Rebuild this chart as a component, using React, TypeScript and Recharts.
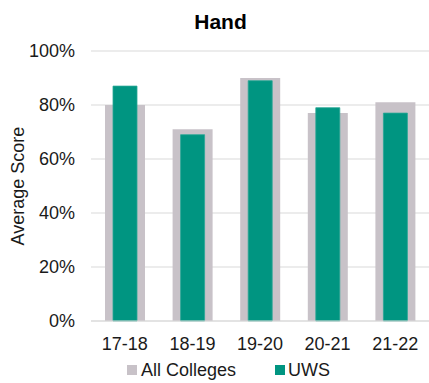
import React from "react";
import { BarChart, Bar, XAxis, YAxis, CartesianGrid } from "recharts";

const years = ["17-18", "18-19", "19-20", "20-21", "21-22"];
const allColleges = [80, 71, 90, 77, 81];
const uws = [87, 69, 89, 79, 77];
const yTicks = [0, 20, 40, 60, 80, 100];

const data = years.map((y, i) => ({ year: y, all: allColleges[i], uws: uws[i] }));

const FONT = "'Liberation Sans', Arial, sans-serif";
const GREY = "#c8c2c8";
const TEAL = "#009581";

const LegendBlock = () => (
  <div style={{ position: "absolute", left: 0, top: 358, width: 429, height: 24, fontFamily: FONT, fontSize: 18, color: "#1a1a1a" }}>
    <div style={{ position: "absolute", left: 127, top: 7, width: 10, height: 10, background: GREY }} />
    <div style={{ position: "absolute", left: 141, top: 0, lineHeight: "24px" }}>All Colleges</div>
    <div style={{ position: "absolute", left: 275, top: 7, width: 10, height: 10, background: TEAL }} />
    <div style={{ position: "absolute", left: 288, top: 0, lineHeight: "24px" }}>UWS</div>
  </div>
);

export default function App() {
  return (
    <div style={{ position: "absolute", left: 0, top: 0, width: 429, height: 383, background: "#fff" }}>
      <BarChart
        width={429}
        height={383}
        data={data}
        margin={{ top: 51, right: 0, bottom: 32, left: 0 }}
      >
        <text x={220.5} y={28.5} textAnchor="middle" fontFamily={FONT} fontWeight="bold" fontSize={21} fill="#000">
          Hand
        </text>
        <CartesianGrid vertical={false} stroke="#d9d9d9" strokeWidth={1.2} />
        <XAxis
          xAxisId="a"
          dataKey="year"
          height={30}
          axisLine={{ stroke: "#d9d9d9", strokeWidth: 1.2 }}
          tickLine={false}
          tickMargin={10}
          tick={{ fontFamily: FONT, fontSize: 18, fill: "#1a1a1a" }}
          interval={0}
        />
        <XAxis xAxisId="b" dataKey="year" hide />
        <YAxis
          width={91}
          domain={[0, 100]}
          ticks={yTicks}
          tickFormatter={(v: number) => `${v}%`}
          axisLine={false}
          tickLine={false}
          tickMargin={10}
          tick={{ fontFamily: FONT, fontSize: 18, fill: "#1a1a1a" }}
          label={{
            value: "Average Score",
            angle: -90,
            position: "insideLeft",
            offset: 0,
            dx: 18,
            style: { fontFamily: FONT, fontSize: 18, fill: "#1a1a1a", textAnchor: "middle" },
          }}
        />
        <Bar xAxisId="a" dataKey="all" name="All Colleges" fill={GREY} barSize={40} isAnimationActive={false} />
        <Bar xAxisId="b" dataKey="uws" name="UWS" fill={TEAL} stroke="#2aa796" strokeWidth={0.8} barSize={24} isAnimationActive={false} />
      </BarChart>
      <LegendBlock />
    </div>
  );
}
